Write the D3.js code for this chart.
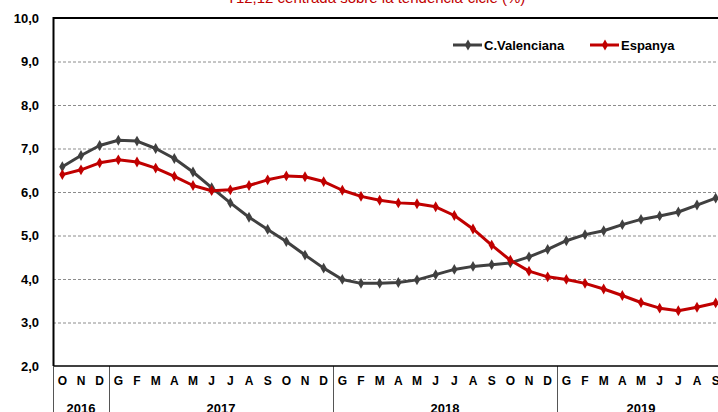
<!DOCTYPE html>
<html>
<head>
<meta charset="utf-8">
<script src="https://cdn.jsdelivr.net/npm/d3@7"></script>
<style>
    body { margin: 0; background: #fff; }
    svg { display: block; font-family: "Liberation Sans", Arial, sans-serif; }
</style>
</head>
<body>
<svg id="chart" width="718" height="412"></svg>
<script>
// months from O 2016 to S 2019
const months = ["O","N","D",
    "G","F","M","A","M","J","J","A","S","O","N","D",
    "G","F","M","A","M","J","J","A","S","O","N","D",
    "G","F","M","A","M","J","J","A","S"];
const years = ["2016", "2017", "2018", "2019"];
const yearLength = [3, 12, 12, 9];
const yTicks = [2, 3, 4, 5, 6, 7, 8, 9, 10];

const valenciana = [6.58, 6.84, 7.07, 7.19, 7.17, 7.0, 6.77, 6.46, 6.1, 5.75, 5.42, 5.14,
    4.86, 4.55, 4.25, 3.99, 3.9, 3.9, 3.92, 3.98, 4.1, 4.22, 4.29, 4.33,
    4.37, 4.51, 4.68, 4.88, 5.02, 5.11, 5.25, 5.37, 5.45, 5.54, 5.7, 5.86];
const espanya = [6.4, 6.51, 6.67, 6.74, 6.69, 6.55, 6.36, 6.15, 6.03, 6.05, 6.15, 6.28,
    6.37, 6.35, 6.24, 6.04, 5.9, 5.81, 5.75, 5.73, 5.66, 5.46, 5.15, 4.78,
    4.43, 4.18, 4.05, 3.99, 3.9, 3.77, 3.62, 3.46, 3.33, 3.27, 3.35, 3.45];

const series = [
    { name: "C.Valenciana", values: valenciana, color: "#404040" },
    { name: "Espanya", values: espanya, color: "#c00000" }
];

const svg = d3.select("#chart");
const width = 718, height = 412;
// the plot runs a little past the right edge of the window
const PADDING = { top: 18, right: -7, bottom: 46, left: 53 };

const nBands = d3.sum(yearLength);
const xscale = d3.scaleBand()
    .domain(d3.range(nBands))
    .range([PADDING.left, width - PADDING.right])
    .padding(0);
const yscale = d3.scaleLinear()
    .domain([2, 10])
    .range([height - PADDING.bottom, PADDING.top]);

const fmt = d => d.toFixed(1).replace(".", ",");

// title, mostly cut off at the top
svg.append("text")
    .attr("x", 376)
    .attr("y", 3)
    .attr("text-anchor", "middle")
    .attr("fill", "#c00000")
    .style("font-size", "15px")
    .text("T12,12 centrada sobre la tendència-cicle (%)");

// grid
svg.append("g")
    .selectAll("line")
    .data(yTicks.filter(d => d > 2 && d < 10))
    .join("line")
    .attr("x1", PADDING.left)
    .attr("x2", width)
    .attr("y1", d => yscale(d) + 0.5)
    .attr("y2", d => yscale(d) + 0.5)
    .attr("stroke", "#8c8c8c")
    .attr("stroke-width", 1)
    .attr("stroke-dasharray", "3,2");

// y axis labels
const yaxis = d3.axisLeft(yscale)
    .tickValues(yTicks)
    .tickFormat(fmt)
    .tickSize(0)
    .tickPadding(14);
const gy = svg.append("g")
    .attr("transform", `translate(${PADDING.left},0)`)
    .call(yaxis);
gy.select(".domain").remove();
gy.selectAll("text")
    .attr("fill", "#000")
    .style("font-size", "13px")
    .style("font-weight", "bold");

// month labels
const xaxis = d3.axisBottom(xscale)
    .tickFormat(i => months[i])
    .tickSize(0)
    .tickPadding(10);
const gx = svg.append("g")
    .attr("transform", `translate(0,${yscale(2)})`)
    .call(xaxis);
gx.select(".domain").remove();
gx.selectAll("text")
    .attr("fill", "#000")
    .style("font-size", "12px")
    .style("font-weight", "bold");

// year bands
let start = 0;
const yearBands = years.map((y, i) => {
    const b = { year: y, start: start, end: start + yearLength[i] };
    start += yearLength[i];
    return b;
});
const bandX = i => i < nBands ? xscale(i) : width - PADDING.right;

svg.append("g")
    .selectAll("line")
    .data(yearBands.slice(1))
    .join("line")
    .attr("x1", d => bandX(d.start) + 0.5)
    .attr("x2", d => bandX(d.start) + 0.5)
    .attr("y1", yscale(2))
    .attr("y2", height)
    .attr("stroke", "#555")
    .attr("stroke-width", 1);

svg.append("g")
    .selectAll("text")
    .data(yearBands)
    .join("text")
    .attr("x", d => (bandX(d.start) + bandX(d.end)) / 2)
    .attr("y", height + 1)
    .attr("text-anchor", "middle")
    .style("font-size", "13px")
    .style("font-weight", "bold")
    .text(d => d.year);

// frame
svg.append("line")
    .attr("x1", PADDING.left).attr("x2", width)
    .attr("y1", yscale(10)).attr("y2", yscale(10))
    .attr("stroke", "#000").attr("stroke-width", 2);
svg.append("line")
    .attr("x1", PADDING.left).attr("x2", width)
    .attr("y1", yscale(2)).attr("y2", yscale(2))
    .attr("stroke", "#000").attr("stroke-width", 1.5);
svg.append("line")
    .attr("x1", PADDING.left + 0.5).attr("x2", PADDING.left + 0.5)
    .attr("y1", yscale(10) - 1).attr("y2", yscale(2))
    .attr("stroke", "#000").attr("stroke-width", 2);
svg.append("line")
    .attr("x1", PADDING.left + 0.5).attr("x2", PADDING.left + 0.5)
    .attr("y1", yscale(2)).attr("y2", height)
    .attr("stroke", "#555").attr("stroke-width", 1);

// lines
const cx = i => xscale(i) + xscale.bandwidth() / 2;
const line = d3.line()
    .x((d, i) => cx(i))
    .y(d => yscale(d));
const diamond = d3.symbol().type(d3.symbolDiamond).size(34);

series.forEach(s => {
    const g = svg.append("g");
    g.append("path")
        .datum(s.values)
        .attr("fill", "none")
        .attr("stroke", s.color)
        .attr("stroke-width", 3)
        .attr("stroke-linejoin", "round")
        .attr("d", line);
    g.selectAll("path.pt")
        .data(s.values)
        .join("path")
        .attr("class", "pt")
        .attr("transform", (d, i) => `translate(${cx(i)},${yscale(d)})`)
        .attr("fill", s.color)
        .attr("d", diamond);
});

// legend
const legendX = [453, 590];
const legend = svg.append("g")
    .selectAll("g")
    .data(series)
    .join("g")
    .attr("transform", (d, i) => `translate(${legendX[i]},45)`);
legend.append("line")
    .attr("x1", 0).attr("x2", 29)
    .attr("stroke", d => d.color)
    .attr("stroke-width", 3);
legend.append("path")
    .attr("transform", "translate(15,0)")
    .attr("fill", d => d.color)
    .attr("d", diamond);
legend.append("text")
    .attr("x", 31)
    .attr("y", 4.5)
    .style("font-size", "13px")
    .style("font-weight", "bold")
    .text(d => d.name);
</script>
</body>
</html>
